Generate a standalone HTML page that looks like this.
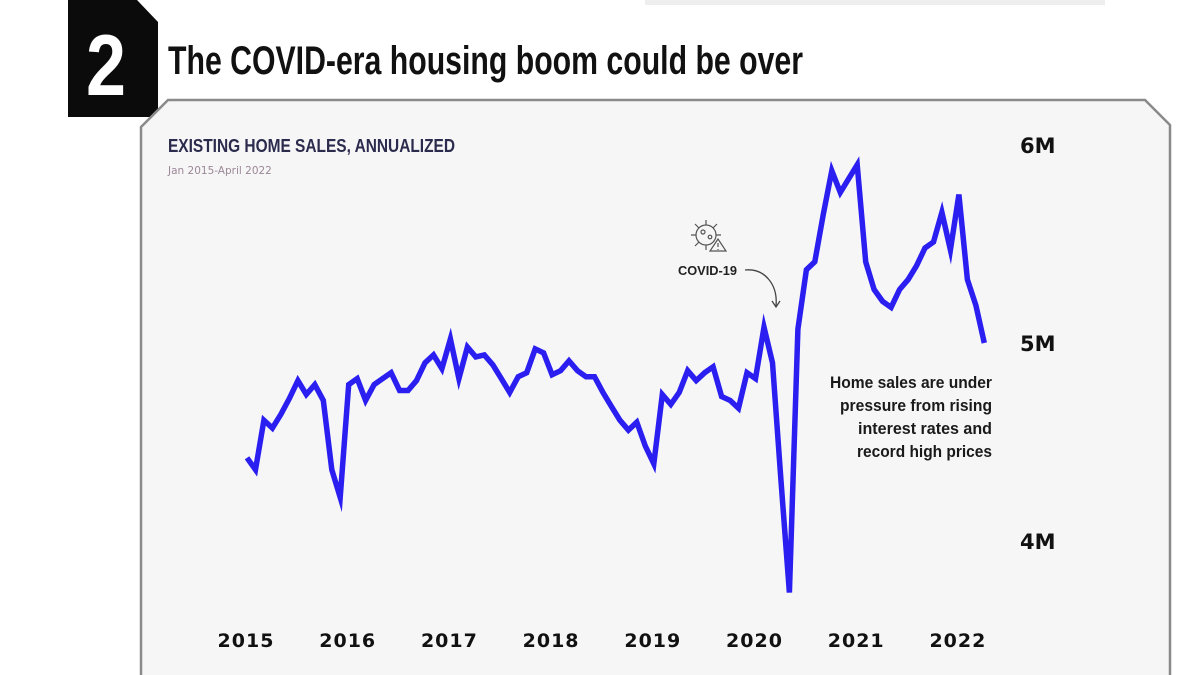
<!DOCTYPE html>
<html><head><meta charset="utf-8"><style>
html,body{margin:0;padding:0;background:#fff;width:1200px;height:675px;overflow:hidden}
svg{display:block}
.cond{font-family:"Liberation Sans Narrow","Liberation Sans",sans-serif;font-weight:bold}
.wide{font-family:"DejaVu Sans","Liberation Sans",sans-serif;font-weight:bold}
</style></head><body>
<svg width="1200" height="675" viewBox="0 0 1200 675">
<rect x="645" y="0" width="460" height="5" fill="#eeeeee"/>
<polygon points="68,0 137,0 158,22 158,117 68,117" fill="#0b0b0b"/>
<text x="86" y="95" class="cond" font-size="86" fill="#fff" textLength="40" lengthAdjust="spacingAndGlyphs">2</text>
<text x="168" y="74" class="cond" font-size="40" fill="#111" textLength="635" lengthAdjust="spacingAndGlyphs">The COVID-era housing boom could be over</text>
<polygon points="168,100 1145,100 1170,125 1170,680 141,680 141,127" fill="#f7f6f7" stroke="#8a8a8a" stroke-width="2.5"/>
<text x="168" y="152" class="cond" font-size="18" fill="#2b2b4d" textLength="287" lengthAdjust="spacingAndGlyphs">EXISTING HOME SALES, ANNUALIZED</text>
<text x="168" y="174" font-family="DejaVu Sans,sans-serif" font-size="10.5" fill="#9a8796">Jan 2015-April 2022</text>
<g id="yaxis"></g><g id="xaxis"></g>
<g>
 <g transform="translate(706,235)" stroke="#555" fill="none" stroke-width="1.2">
  <circle r="10"/><circle cx="-3" cy="-3" r="2"/><circle cx="4" cy="2" r="1.8"/>
  <path d="M0,-10V-15M0,15V10M-10,0H-15M10,0H15M7,-7L11,-11M-7,-7L-11,-11M-7,7L-11,11"/>
  <polygon points="12,4 20,16 4,16" fill="#f7f6f7"/><path d="M12,8V12M12,14V15"/>
 </g>
 <text x="678" y="275" class="cond" font-size="13" fill="#222" textLength="59" lengthAdjust="spacingAndGlyphs">COVID-19</text>
 <path d="M745,270 C765,268 778,285 776,306" stroke="#444" fill="none" stroke-width="1.3"/>
 <path d="M772,301 L776,307 L780,301" stroke="#444" fill="none" stroke-width="1.3"/>
</g>
<g class="cond" font-size="17" fill="#1a1a1a">
 <text x="830" y="388" textLength="162" lengthAdjust="spacingAndGlyphs">Home sales are under</text>
 <text x="840" y="411" textLength="152" lengthAdjust="spacingAndGlyphs">pressure from rising</text>
 <text x="858" y="434" textLength="134" lengthAdjust="spacingAndGlyphs">interest rates and</text>
 <text x="857" y="457" textLength="135" lengthAdjust="spacingAndGlyphs">record high prices</text>
</g>
<g id="plot"></g>
</svg>
<script>
const yTicks=[4,5,6];
const yTickLabels=["4M","5M","6M"];
const years=[2015,2016,2017,2018,2019,2020,2021,2022];
const startYear=2015;
const values=[4.42,4.36,4.61,4.57,4.64,4.72,4.81,4.74,4.79,4.71,4.36,4.22,
4.79,4.82,4.71,4.79,4.82,4.85,4.76,4.76,4.81,4.90,4.94,4.87,
5.02,4.82,4.98,4.93,4.94,4.89,4.82,4.75,4.83,4.85,4.97,4.95,
4.84,4.86,4.91,4.86,4.83,4.83,4.75,4.68,4.61,4.56,4.60,4.48,
4.39,4.74,4.69,4.75,4.86,4.81,4.85,4.88,4.73,4.71,4.67,4.85,
4.82,5.08,4.90,4.31,3.74,5.07,5.37,5.41,5.65,5.87,5.76,5.83,
5.90,5.41,5.27,5.21,5.18,5.27,5.32,5.39,5.48,5.51,5.66,5.47,
5.75,5.32,5.19,5.00];
const X=m=>247+m*101.7/12;
const Y=v=>343-(v-5)*198;
const NS="http://www.w3.org/2000/svg";
const ya=document.getElementById('yaxis');
yTicks.forEach((t,i)=>{const e=document.createElementNS(NS,'text');
e.setAttribute('x',1020);e.setAttribute('y',Y(t)+8);e.setAttribute('class','wide');
e.setAttribute('font-size','21');e.setAttribute('fill','#111');e.textContent=yTickLabels[i];


ya.appendChild(e);});
const xa=document.getElementById('xaxis');
years.forEach(yr=>{const e=document.createElementNS(NS,'text');
e.setAttribute('x',X((yr-startYear)*12)-1);e.setAttribute('y',647);e.setAttribute('text-anchor','middle');
e.setAttribute('class','wide');e.setAttribute('font-size','19');e.setAttribute('letter-spacing','1');e.setAttribute('fill','#111');
e.textContent=yr;


xa.appendChild(e);});
const plot=document.getElementById('plot');
const d=values.map((v,i)=>(i?'L':'M')+X(i).toFixed(1)+','+Y(v).toFixed(1)).join(' ');
const p=document.createElementNS(NS,'path');
p.setAttribute('d',d);p.setAttribute('fill','none');p.setAttribute('stroke','#2a1ff0');
p.setAttribute('stroke-width','5.5');p.setAttribute('stroke-linejoin','miter');p.setAttribute('stroke-miterlimit','6');


plot.appendChild(p);
</script>
</body></html>
